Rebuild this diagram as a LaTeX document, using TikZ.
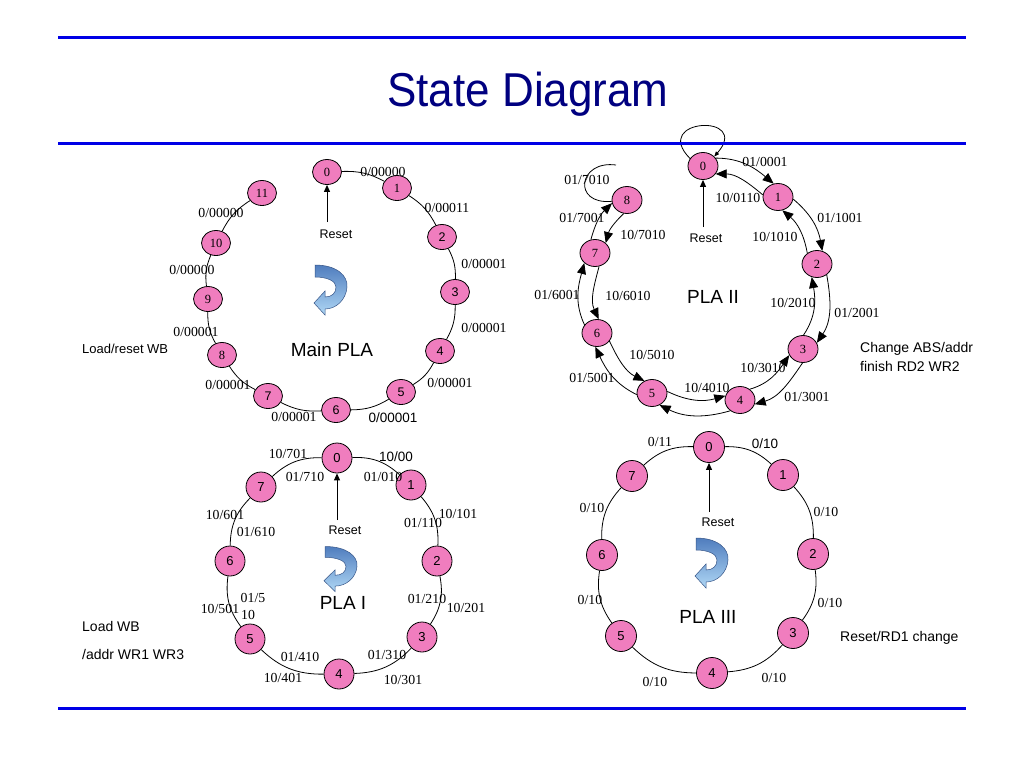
\documentclass[tikz,border=0pt]{standalone}
\usepackage{fontspec}
\setmainfont{Liberation Serif}
\setsansfont{Liberation Sans}
\usetikzlibrary{arrows.meta,shapes.geometric}
\definecolor{pinkc}{RGB}{240,125,190}
\definecolor{rulecol}{RGB}{0,0,230}
\definecolor{titlec}{RGB}{0,0,128}
\definecolor{arrdark}{RGB}{80,125,190}
\definecolor{arrlight}{RGB}{175,215,245}
\definecolor{arredge}{RGB}{55,85,135}
\tikzset{
 stm/.style={ellipse, draw=black, line width=0.8pt, fill=pinkc, inner sep=0pt, minimum width=29pt, minimum height=25pt, font=\fontsize{12.5}{12.5}\selectfont},
 sts/.style={stm, font=\sffamily\fontsize{12.5}{12.5}\selectfont},
 stp/.style={stm, minimum width=30pt, minimum height=27pt},
 stc/.style={circle, draw=black, line width=0.8pt, fill=pinkc, inner sep=0pt, minimum size=30pt, font=\sffamily\fontsize{13}{13}\selectfont},
 lab/.style={inner sep=0pt, font=\fontsize{13.8}{14}\selectfont},
 slab/.style={inner sep=0pt, font=\sffamily\fontsize{13.5}{14}\selectfont},
 side/.style={inner sep=0pt, anchor=west, font=\sffamily\fontsize{14}{16}\selectfont},
 rsttext/.style={inner sep=0pt, font=\sffamily\fontsize{12.5}{13}\selectfont},
 planame/.style={inner sep=0pt, font=\sffamily\fontsize{19}{20}\selectfont},
 ring/.style={line width=0.8pt},
 arr/.style={line width=0.8pt, -{Triangle[length=11pt,width=9pt]}},
 rst/.style={line width=1pt, -{Triangle[length=7pt,width=6pt]}},
 rulec/.style={draw=rulecol, line width=3pt},
 cwarrow/.pic={
  \shade[top color=arrdark, bottom color=arrlight, draw=arredge, line width=0.5pt]
   (-16,25) .. controls (6,25) and (17,14) .. (16,3)
   .. controls (15,-10) and (5,-19) .. (-6,-19)
   -- (-6,-25) -- (-17,-13) -- (-6,-1) -- (-6,-7)
   .. controls (1,-7) and (5,-3) .. (5,3)
   .. controls (5,9) and (-4,13) .. (-16,13) -- cycle;
 }
}
\begin{document}
\begin{tikzpicture}[x=1pt,y=1pt]
\useasboundingbox (0,0) rectangle (1024,-768);
\fill[white] (0,0) rectangle (1024,-768);

% title
\node[inner sep=0pt, anchor=base, text=titlec, font=\sffamily\fontsize{44}{48}\selectfont, yscale=1.08] (title) at (528,-106) {State Diagram};

% ===== Main PLA =====
\node[stm] (m0) at (327,-172) {0};
\node[stm] (m1) at (397,-188) {1};
\node[sts] (m2) at (442,-237) {2};
\node[sts] (m3) at (455,-292) {3};
\node[sts] (m4) at (440,-351) {4};
\node[sts] (m5) at (401,-392) {5};
\node[sts] (m6) at (336,-410) {6};
\node[sts] (m7) at (268,-396) {7};
\node[stm] (m8) at (222,-355) {8};
\node[stm] (m9) at (208,-299) {9};
\node[stm] (m10) at (216,-243) {10};
\node[stm] (m11) at (262,-193) {11};
\foreach \i/\j in {0/1,1/2,2/3,3/4,4/5,5/6,6/7,7/8,8/9,9/10,10/11}
  \draw[ring] (m\i) to[bend left=15] (m\j);
\coordinate (mrs) at (327,-222);
\draw[rst] (mrs) -- (m0);
\node[rsttext] (mrt) at (336,-234) {Reset};
\pic (mcw) at (331,-290) {cwarrow};
\node[planame] (mname) at (332,-350) {Main PLA};
\node[lab] (ml1) at (383,-172) {0/00000};
\node[lab] (ml2) at (447,-208) {0/00011};
\node[lab] (ml3) at (484,-264) {0/00001};
\node[lab] (ml4) at (484,-328) {0/00001};
\node[lab] (ml5) at (450,-383) {0/00001};
\node[slab] (ml6) at (393,-418) {0/00001};
\node[lab] (ml7) at (294,-417) {0/00001};
\node[lab] (ml8) at (228,-385) {0/00001};
\node[lab] (ml9) at (196,-332) {0/00001};
\node[lab] (ml10) at (192,-270) {0/00000};
\node[lab] (ml11) at (221,-213) {0/00000};
\node[side, font=\sffamily\fontsize{13}{15}\selectfont] (mside) at (82,-349) {Load/reset WB};

% ===== PLA II =====
\node[stp] (p0) at (703,-166) {0};
\node[stp] (p1) at (778,-197) {1};
\node[stp] (p2) at (817,-264) {2};
\node[stp] (p3) at (803,-349) {3};
\node[stp] (p4) at (740,-400) {4};
\node[stp] (p5) at (652,-393) {5};
\node[stp] (p6) at (597,-333) {6};
\node[stp] (p7) at (595,-253) {7};
\node[stp] (p8) at (627,-200) {8};
\foreach \A/\B/\a/\b in {0/1/90/50,1/2/50/10,2/3/10/-34,3/4/-34/-74,4/5/-74/-116,5/6/-116/-155,6/7/-155/-195,7/8/-195/-226}{
  \pgfmathtruncatemacro\angOA{\a-58}
  \pgfmathtruncatemacro\angOB{\b+58}
  \pgfmathtruncatemacro\angIA{\a-122}
  \pgfmathtruncatemacro\angIB{\b+122}
  \pgfmathtruncatemacro\angTA{\a-90}
  \pgfmathtruncatemacro\angTB{\b+90}
  \draw[arr] (p\A.\angOA) to[out=\angTA,in=\angTB] (p\B.\angOB);
  \draw[arr] (p\B.\angIB) to[out=\angTB,in=\angTA] (p\A.\angIA);
}
\draw[line width=0.8pt, -{Triangle[length=5pt,width=4pt]}] (p0.150) .. controls (650,-118) and (752,-113) .. (p0.40);
\coordinate (l8s) at (616,-165);
\draw[line width=0.8pt] (l8s) .. controls (578,-160) and (572,-205) .. (p8.185);
\coordinate (prs) at (703,-227);
\draw[rst] (prs) -- (p0);
\node[rsttext] (prt) at (706,-238) {Reset};
\node[planame] (pname) at (713,-297) {PLA II};
\node[lab] (pl1) at (765,-162) {01/0001};
\node[lab] (pl2) at (738,-198) {10/0110};
\node[lab] (pl3) at (840,-218) {01/1001};
\node[lab] (pl4) at (775,-237) {10/1010};
\node[lab] (pl5) at (857,-313) {01/2001};
\node[lab] (pl6) at (793,-303) {10/2010};
\node[lab] (pl7) at (763,-368) {10/3010};
\node[lab] (pl8) at (807,-397) {01/3001};
\node[lab] (pl9) at (707,-388) {10/4010};
\node[lab] (pl10) at (592,-378) {01/5001};
\node[lab] (pl11) at (652,-355) {10/5010};
\node[lab] (pl12) at (557,-295) {01/6001};
\node[lab] (pl13) at (628,-296) {10/6010};
\node[lab] (pl14) at (582,-218) {01/7001};
\node[lab] (pl15) at (643,-235) {10/7010};
\node[lab] (pl16) at (587,-180) {01/7010};
\node[side] (pside1) at (860,-349) {Change ABS/addr};
\node[side] (pside2) at (860,-366) {finish RD2 WR2};

% ===== PLA I =====
\node[stc] (q0) at (337,-458) {0};
\node[stc] (q1) at (411,-485) {1};
\node[stc] (q2) at (437,-561) {2};
\node[stc] (q3) at (422,-637) {3};
\node[stc] (q4) at (339,-674) {4};
\node[stc] (q5) at (250,-639) {5};
\node[stc] (q6) at (230,-561) {6};
\node[stc] (q7) at (261,-487) {7};
\foreach \i/\j in {0/1,1/2,2/3,3/4,4/5,5/6,6/7,7/0}
  \draw[ring] (q\i) to[bend left=22] (q\j);
\coordinate (qrs) at (337,-520);
\draw[rst] (qrs) -- (q0);
\node[rsttext] (qrt) at (345,-530) {Reset};
\pic[yscale=0.9] (qcw) at (341,-569) {cwarrow};
\node[planame] (qname) at (343,-603) {PLA I};
\node[lab] (ql1) at (288,-454) {10/701};
\node[lab] (ql2) at (305,-477) {01/710};
\node[slab] (ql3) at (396,-457) {10/00};
\node[lab] (ql4) at (383,-477) {01/010};
\node[lab] (ql5) at (458,-514) {10/101};
\node[lab] (ql6) at (423,-523) {01/110};
\node[lab] (ql7) at (225,-515) {10/601};
\node[lab] (ql8) at (256,-532) {01/610};
\node[lab] (ql9) at (253,-598) {01/5};
\node[lab] (ql10) at (248,-615) {10};
\node[lab] (ql11) at (220,-609) {10/501};
\node[lab] (ql12) at (427,-599) {01/210};
\node[lab] (ql13) at (466,-608) {10/201};
\node[lab] (ql14) at (300,-657) {01/410};
\node[lab] (ql15) at (283,-678) {10/401};
\node[lab] (ql16) at (387,-655) {01/310};
\node[lab] (ql17) at (403,-680) {10/301};
\node[side] (qside1) at (82,-626) {Load WB};
\node[side] (qside2) at (82,-654) {/addr WR1 WR3};

% ===== PLA III =====
\node[stc, minimum size=31pt] (r0) at (709,-447) {0};
\node[stc, minimum size=31pt] (r1) at (783,-475) {1};
\node[stc, minimum size=31pt] (r2) at (813,-554) {2};
\node[stc, minimum size=31pt] (r3) at (793,-633) {3};
\node[stc, minimum size=31pt] (r4) at (712,-673) {4};
\node[stc, minimum size=31pt] (r5) at (621,-636) {5};
\node[stc, minimum size=31pt] (r6) at (602,-555) {6};
\node[stc, minimum size=31pt] (r7) at (632,-476) {7};
\foreach \i/\j in {0/1,1/2,2/3,3/4,4/5,5/6,6/7,7/0}
  \draw[ring] (r\i) to[bend left=22] (r\j);
\coordinate (rrs) at (709,-512);
\draw[rst] (rrs) -- (r0);
\node[rsttext] (rrt) at (718,-522) {Reset};
\pic (rcw) at (712,-563) {cwarrow};
\node[planame] (rname) at (708,-617) {PLA III};
\node[lab] (rl1) at (660,-442) {0/11};
\node[slab] (rl2) at (765,-444) {0/10};
\node[lab] (rl3) at (826,-512) {0/10};
\node[lab] (rl4) at (592,-508) {0/10};
\node[lab] (rl5) at (830,-603) {0/10};
\node[lab] (rl6) at (590,-600) {0/10};
\node[lab] (rl7) at (655,-682) {0/10};
\node[lab] (rl8) at (774,-678) {0/10};
\node[side] (rside) at (840,-638) {Reset/RD1 change};

% rules
\draw[rulec] (58,-38) -- (966,-38);
\draw[rulec] (58,-143) -- (966,-143);
\draw[rulec] (58,-708) -- (966,-708);
\end{tikzpicture}
\end{document}
